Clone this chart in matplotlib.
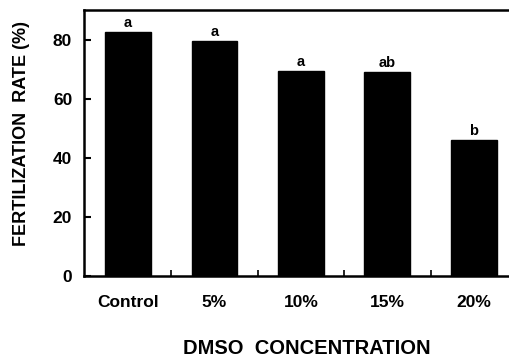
import matplotlib
matplotlib.use("Agg")
import matplotlib.pyplot as plt
import numpy as np

# values
groups = ["Control", "5%", "10%", "15%", "20%"]
fert_rate = [82.6, 79.6, 69.5, 68.9, 46.1]
sig_letters = ["a", "a", "a", "ab", "b"]

plt.rcParams['font.family'] = ['Liberation Sans', 'DejaVu Sans']
plt.rcParams['font.weight'] = 'bold'

fig = plt.figure(figsize=(5.1, 3.56), dpi=100)
ax = fig.add_axes([0.1647, 0.2247, 0.8353, 0.7472])

x = np.arange(len(groups))
bars = ax.bar(x, fert_rate, width=0.53, color="black", edgecolor="black")

for xi, val, lab in zip(x, fert_rate, sig_letters):
    ax.annotate(lab, (xi, val), xytext=(0, 1.5), textcoords="offset points",
                ha="center", va="bottom", fontsize=10.5, fontweight="bold")

ax.set_xlim(-0.51, 4.42)
ax.set_ylim(0, 90)
ax.set_yticks([0, 20, 40, 60, 80])
ax.set_xticks(x)
ax.set_xticklabels(groups)
ax.set_xticks(x[:-1] + 0.5, minor=True)

ax.tick_params(axis="y", direction="in", length=5, width=1.5, pad=8.5, labelsize=12.5)
ax.tick_params(axis="x", which="major", length=0, pad=14, labelsize=12.5)
ax.tick_params(axis="x", which="minor", direction="in", length=4, width=1.2)

for s in ["left", "top", "bottom"]:
    ax.spines[s].set_linewidth(1.8)
ax.spines["right"].set_visible(False)

ax.set_ylabel("FERTILIZATION  RATE (%)", fontsize=13, fontweight="bold")
ax.yaxis.set_label_coords(-0.127, 0.534)
ax.set_xlabel("DMSO  CONCENTRATION", fontsize=14.5, fontweight="bold")
ax.xaxis.set_label_coords(0.523, -0.235)

fig.savefig("out.png", dpi=100)
